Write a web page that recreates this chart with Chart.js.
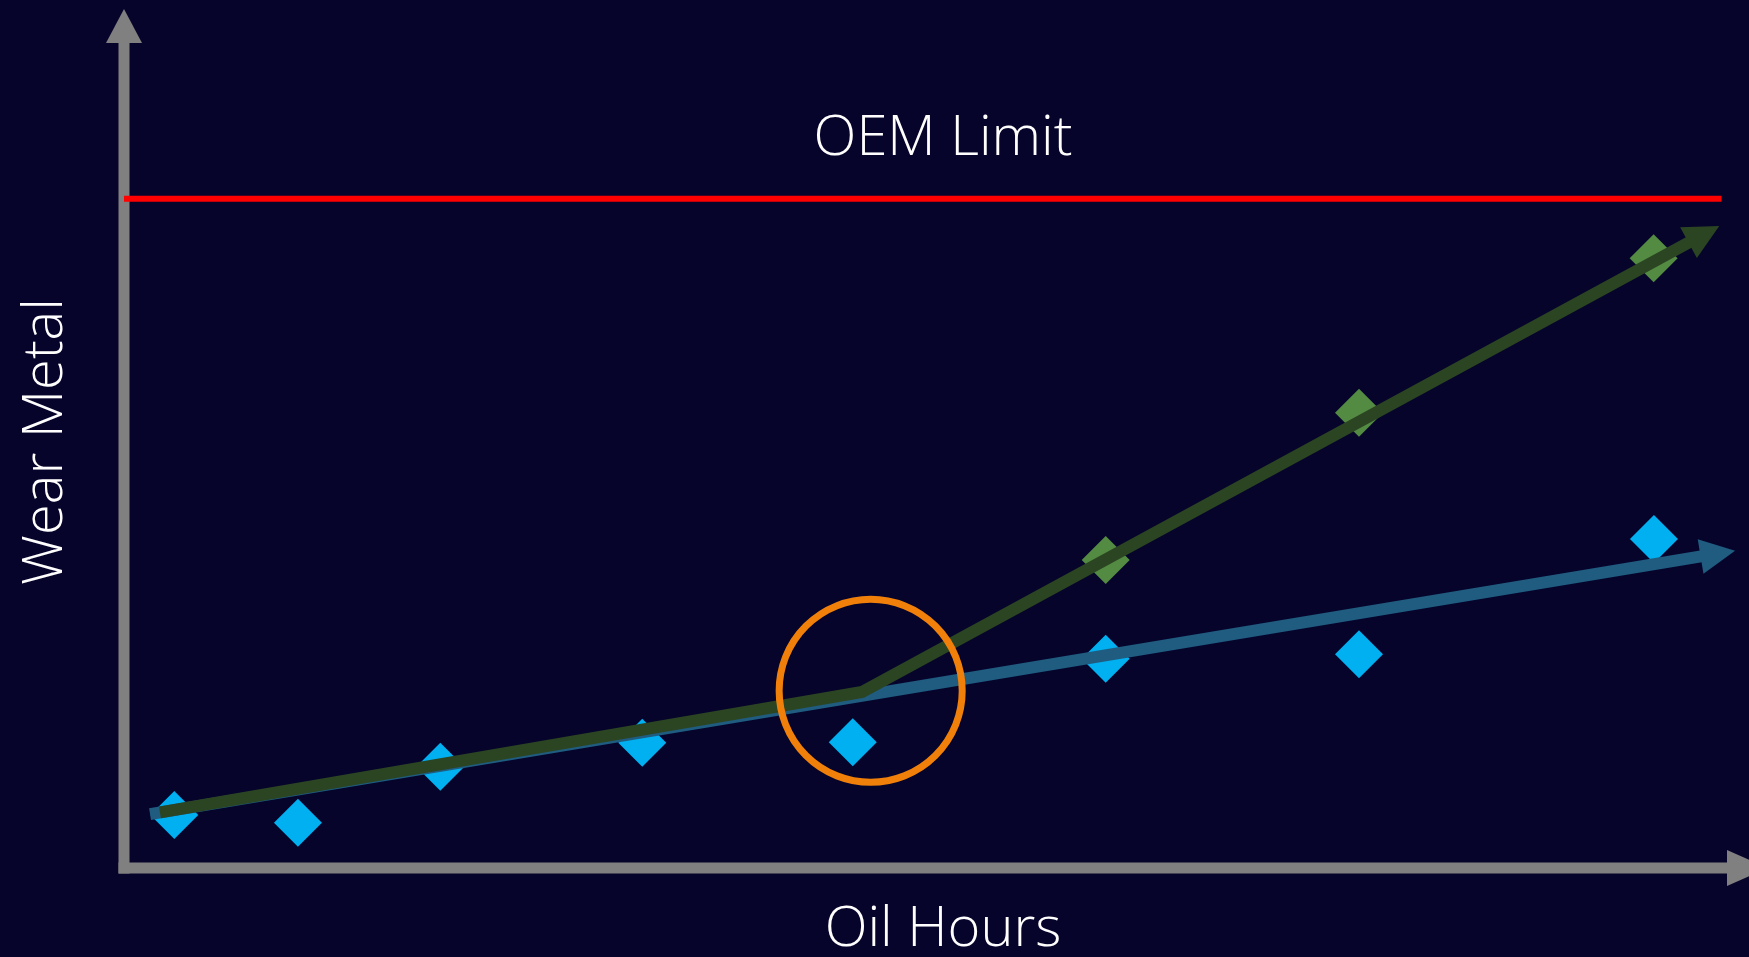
<!DOCTYPE html>
<html>
<head>
<meta charset="utf-8">
<title>Wear Metal vs Oil Hours</title>
<script src="https://cdn.jsdelivr.net/npm/chart.js@4/dist/chart.umd.min.js"></script>
<style>
  html, body { margin: 0; padding: 0; background: #06042b; }
  #wrap { position: relative; width: 1749px; height: 957px; }
</style>
</head>
<body>
<div id="wrap"><canvas id="chart"></canvas></div>
<script>
// Oil analysis samples: oil hours vs. wear metal (ppm)
const sampleHours = [31.5, 108.9, 198.0, 324.4, 456.2, 614.5, 773.1, 957.7];
const sampleWear  = [3.96, 3.38, 7.57, 9.36, 9.39, 15.64, 15.96, 24.58];

// Readings after wear starts to accelerate
const accelHours = [614.5, 773.1, 957.5];
const accelWear  = [23.01, 34.01, 45.55];

// Normal wear trend (shaft end points; arrowhead is added at the end)
const normalTrendHours = [16.3, 990.0];
const normalTrendWear  = [4.03, 23.34];

// Accelerated trend breaking away from the normal one
const accelTrendHours = [22.5, 462.0, 982.1];
const accelTrendWear  = [4.15, 13.15, 46.89];

// OEM limit
const oemLimit = 50;
const limitHours = [0, 1000];

// Break point highlight: [hours, wear, radius in hours]
const breakPoint = [467.4, 13.24, 57.3];

const xRange = [0, 1000];
const yRange = [0, 60];

const COLORS = {
  axis: '#808080',
  sample: '#00b0f0',
  accel: '#548b43',
  normalLine: '#1f5c80',
  accelLine: '#2b4523',
  limit: '#ff0000',
  ring: '#f0800a',
  text: '#ffffff'
};
const FONT = '300 56px "Open Sans", "Noto Sans", sans-serif';

const toPts = (xs, ys) => xs.map((x, i) => ({ x, y: ys[i] }));

// Axes with arrowheads, trend arrowheads, break ring and labels
const decorations = {
  id: 'decorations',
  beforeDatasetsDraw(chart) {
    const { ctx, scales: { x, y } } = chart;
    const x0 = x.getPixelForValue(0);
    const y0 = y.getPixelForValue(0);
    const w = 11;
    const vTip = 9, vBase = 43, hBase = 1727, hTip = 1768, half = 18;
    ctx.save();
    ctx.fillStyle = COLORS.axis;
    // vertical axis
    ctx.fillRect(x0 - w / 2, vBase - 1, w, y0 + w / 2 - vBase + 1);
    ctx.beginPath();
    ctx.moveTo(x0, vTip);
    ctx.lineTo(x0 + half, vBase);
    ctx.lineTo(x0 - half, vBase);
    ctx.closePath();
    ctx.fill();
    // horizontal axis
    ctx.fillRect(x0 - w / 2, y0 - w / 2, hBase + 1 - (x0 - w / 2), w);
    ctx.beginPath();
    ctx.moveTo(hTip, y0);
    ctx.lineTo(hBase, y0 - half);
    ctx.lineTo(hBase, y0 + half);
    ctx.closePath();
    ctx.fill();
    ctx.restore();
  },
  afterDatasetsDraw(chart) {
    const { ctx, scales: { x, y } } = chart;
    ctx.save();
    // arrowheads at trend ends
    chart.data.datasets.forEach((ds, i) => {
      if (!ds.arrow) return;
      const pts = chart.getDatasetMeta(i).data;
      const a = pts[pts.length - 2], b = pts[pts.length - 1];
      const dx = b.x - a.x, dy = b.y - a.y;
      const len = Math.hypot(dx, dy);
      const ux = dx / len, uy = dy / len;
      const bx = b.x - 5 * ux, by = b.y - 5 * uy;
      const tx = b.x + 30 * ux, ty = b.y + 30 * uy;
      const hw = 17.5;
      ctx.fillStyle = ds.borderColor;
      ctx.beginPath();
      ctx.moveTo(tx, ty);
      ctx.lineTo(bx - uy * hw, by + ux * hw);
      ctx.lineTo(bx + uy * hw, by - ux * hw);
      ctx.closePath();
      ctx.fill();
    });
    // ring around the break point
    const cx = x.getPixelForValue(breakPoint[0]);
    const cy = y.getPixelForValue(breakPoint[1]);
    const r = x.getPixelForValue(breakPoint[2]) - x.getPixelForValue(0);
    ctx.strokeStyle = COLORS.ring;
    ctx.lineWidth = 7;
    ctx.beginPath();
    ctx.arc(cx, cy, r, 0, Math.PI * 2);
    ctx.stroke();

    // labels
    const x0 = x.getPixelForValue(0);
    const y0 = y.getPixelForValue(0);
    const midX = (x0 - 6 + 1768) / 2;
    ctx.fillStyle = COLORS.text;
    ctx.font = FONT;
    ctx.textAlign = 'center';
    ctx.textBaseline = 'alphabetic';
    ctx.fillText('OEM Limit', midX, y.getPixelForValue(oemLimit) - 44);
    ctx.fillText('Oil Hours', midX, y0 + 78);
    ctx.translate(62, (9 + y0 + 6) / 2);
    ctx.rotate(-Math.PI / 2);
    ctx.fillText('Wear Metal', 0, 0);
    ctx.restore();
  }
};

function draw() {
  new Chart(document.getElementById('chart'), {
    type: 'scatter',
    data: {
      datasets: [
        {
          label: 'Accelerated trend',
          type: 'line',
          data: toPts(accelTrendHours, accelTrendWear),
          borderColor: COLORS.accelLine,
          borderWidth: 12,
          borderJoinStyle: 'miter',
          borderCapStyle: 'butt',
          pointRadius: 0,
          tension: 0,
          clip: false,
          arrow: true,
          order: 0
        },
        {
          label: 'Normal trend',
          type: 'line',
          data: toPts(normalTrendHours, normalTrendWear),
          borderColor: COLORS.normalLine,
          borderWidth: 12,
          borderCapStyle: 'butt',
          pointRadius: 0,
          tension: 0,
          clip: false,
          arrow: true,
          order: 1
        },
        {
          label: 'OEM Limit',
          type: 'line',
          data: toPts(limitHours, limitHours.map(() => oemLimit)),
          borderColor: COLORS.limit,
          borderWidth: 6,
          pointRadius: 0,
          clip: false,
          order: 2
        },
        {
          label: 'Accelerated readings',
          data: toPts(accelHours, accelWear),
          pointStyle: 'rectRot',
          pointRadius: 24,
          backgroundColor: COLORS.accel,
          borderWidth: 0,
          clip: false,
          order: 3
        },
        {
          label: 'Samples',
          data: toPts(sampleHours, sampleWear),
          pointStyle: 'rectRot',
          pointRadius: 24,
          backgroundColor: COLORS.sample,
          borderWidth: 0,
          clip: false,
          order: 4
        }
      ]
    },
    options: {
      responsive: true,
      maintainAspectRatio: false,
      animation: false,
      events: [],
      layout: { padding: { left: 124, right: 27.5, top: 64.84, bottom: 89 } },
      plugins: { legend: { display: false }, tooltip: { enabled: false } },
      scales: {
        x: { type: 'linear', display: false, min: xRange[0], max: xRange[1] },
        y: { type: 'linear', display: false, min: yRange[0], max: yRange[1] }
      }
    },
    plugins: [decorations]
  });
}

if (document.fonts && document.fonts.load) {
  document.fonts.load(FONT).then(draw, draw);
} else {
  draw();
}
</script>
</body>
</html>
